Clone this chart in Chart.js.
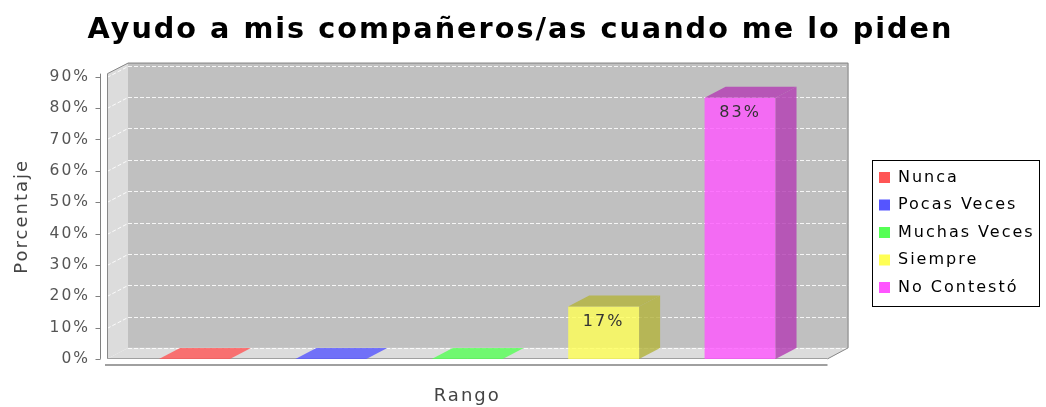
<!DOCTYPE html>
<html>
<head>
<meta charset="utf-8">
<title>Ayudo a mis compañeros/as cuando me lo piden</title>
<script src="https://cdn.jsdelivr.net/npm/chart.js@4.4.1/dist/chart.umd.min.js"></script>
<style>
  html, body { margin: 0; padding: 0; background: #ffffff; }
  #chart { display: block; }
</style>
</head>
<body>
<canvas id="chart" width="1046" height="407"></canvas>
<script>
// Datos
const categories = [''];
const seriesNames = ['Nunca', 'Pocas Veces', 'Muchas Veces', 'Siempre', 'No Contestó'];
const seriesValues = [0, 0, 0, 16.7, 83.3];
const seriesColors = ['#ff5555', '#5555ff', '#55ff55', '#ffff55', '#ff55ff'];
const yTicks = [0, 10, 20, 30, 40, 50, 60, 70, 80, 90];

// Profundidad del efecto 3D
const DEPTH_X = 21;
const DEPTH_Y = 11;
const LETTER_SPACING = '2px';

function shade(hex, alpha, factor) {
    const n = parseInt(hex.slice(1), 16);
    const f = factor || 1;
    const r = Math.round(((n >> 16) & 255) * f);
    const g = Math.round(((n >> 8) & 255) * f);
    const b = Math.round((n & 255) * f);
    return 'rgba(' + r + ',' + g + ',' + b + ',' + alpha + ')';
}

Chart.defaults.font.family = "'DejaVu Sans', sans-serif";

/**
 * Espaciado de letras para imitar la fuente ancha del original
 */
const spacingPlugin = {
    id: 'spacing',
    beforeUpdate(chart) { chart.ctx.letterSpacing = LETTER_SPACING; },
    beforeDraw(chart) { chart.ctx.letterSpacing = LETTER_SPACING; },
    afterLayout(chart) {
        // bajar un poco la leyenda
        chart.legend.top += 29;
        chart.legend.bottom += 29;
    }
};

/**
 * Paredes, suelo y rejilla del grafico 3D
 */
const wallsPlugin = {
    id: 'walls',
    beforeDatasetsDraw(chart) {
        const ctx = chart.ctx;
        const area = chart.chartArea;
        const yScale = chart.scales.y;
        const L = area.left, R = area.right, T = area.top, B = area.bottom;
        ctx.save();

        // pared del fondo
        ctx.fillStyle = '#c0c0c0';
        ctx.fillRect(L + DEPTH_X, T - DEPTH_Y, R - L, B - T);

        // pared izquierda
        ctx.fillStyle = '#dcdcdc';
        ctx.beginPath();
        ctx.moveTo(L, B);
        ctx.lineTo(L, T);
        ctx.lineTo(L + DEPTH_X, T - DEPTH_Y);
        ctx.lineTo(L + DEPTH_X, B - DEPTH_Y);
        ctx.closePath();
        ctx.fill();

        // suelo
        ctx.beginPath();
        ctx.moveTo(L, B);
        ctx.lineTo(L + DEPTH_X, B - DEPTH_Y);
        ctx.lineTo(R + DEPTH_X, B - DEPTH_Y);
        ctx.lineTo(R, B);
        ctx.closePath();
        ctx.fill();

        // rejilla
        ctx.strokeStyle = 'rgba(255,255,255,0.85)';
        ctx.lineWidth = 1;
        ctx.setLineDash([4, 2]);
        yTicks.forEach(v => {
            const py = Math.round(yScale.getPixelForValue(v)) + 0.5;
            ctx.beginPath();
            ctx.moveTo(L + DEPTH_X, py - DEPTH_Y);
            ctx.lineTo(R + DEPTH_X, py - DEPTH_Y);
            ctx.stroke();
            if (v === 0) return;
            ctx.beginPath();
            ctx.moveTo(L, py);
            ctx.lineTo(L + DEPTH_X, py - DEPTH_Y);
            ctx.stroke();
        });
        ctx.setLineDash([]);

        // contorno
        ctx.strokeStyle = '#888888';
        ctx.beginPath();
        ctx.moveTo(L + 0.5, B);
        ctx.lineTo(L + 0.5, T);
        ctx.lineTo(L + DEPTH_X, T - DEPTH_Y + 0.5);
        ctx.lineTo(R + DEPTH_X - 0.5, T - DEPTH_Y + 0.5);
        ctx.lineTo(R + DEPTH_X - 0.5, B - DEPTH_Y);
        ctx.lineTo(R, B);
        ctx.stroke();
        ctx.strokeStyle = '#a0a0a0';
        ctx.beginPath();
        ctx.moveTo(L, Math.round(B) - 0.5);
        ctx.lineTo(R, Math.round(B) - 0.5);
        ctx.stroke();

        // eje Y
        const ax = L - 7 + 0.5;
        ctx.strokeStyle = '#808080';
        ctx.beginPath();
        ctx.moveTo(ax, T);
        ctx.lineTo(ax, B);
        yTicks.forEach(v => {
            const py = Math.round(yScale.getPixelForValue(v)) + 0.5;
            ctx.moveTo(ax - 5, py);
            ctx.lineTo(ax, py);
        });
        ctx.stroke();

        // eje X
        ctx.strokeStyle = '#a0a0a0';
        ctx.lineWidth = 2;
        ctx.beginPath();
        ctx.moveTo(L - 2, B + 6);
        ctx.lineTo(R, B + 6);
        ctx.stroke();
        ctx.restore();
    }
};

/**
 * Caras superior y lateral de las barras, y etiquetas de valor
 */
const barsPlugin = {
    id: 'bars3d',
    afterDatasetsDraw(chart) {
        const ctx = chart.ctx;
        ctx.save();
        chart.data.datasets.forEach((ds, i) => {
            const bar = chart.getDatasetMeta(i).data[0];
            const p = bar.getProps(['x', 'y', 'base', 'width'], true);
            const left = p.x - p.width / 2;
            const right = p.x + p.width / 2;
            const top = Math.min(p.y, p.base);
            const bottom = Math.max(p.y, p.base);
            const flat = bottom - top < 0.5;
            ctx.fillStyle = flat ? shade(seriesColors[i], 0.8, 1) : shade(seriesColors[i], 0.8, 0.7);

            // cara superior
            ctx.beginPath();
            ctx.moveTo(left, top);
            ctx.lineTo(left + DEPTH_X, top - DEPTH_Y);
            ctx.lineTo(right + DEPTH_X, top - DEPTH_Y);
            ctx.lineTo(right, top);
            ctx.closePath();
            ctx.fill();

            // cara lateral
            if (!flat) {
                ctx.beginPath();
                ctx.moveTo(right, top);
                ctx.lineTo(right + DEPTH_X, top - DEPTH_Y);
                ctx.lineTo(right + DEPTH_X, bottom - DEPTH_Y);
                ctx.lineTo(right, bottom);
                ctx.closePath();
                ctx.fill();
            }

            // etiqueta
            const v = ds.data[0];
            if (v > 0) {
                ctx.fillStyle = '#333333';
                ctx.font = "16px 'DejaVu Sans', sans-serif";
                ctx.textAlign = 'center';
                ctx.textBaseline = 'middle';
                ctx.fillText(Math.round(v) + '%', p.x, top + 15);
            }
        });
        ctx.restore();
    }
};

/**
 * Marco de la leyenda
 */
const legendBoxPlugin = {
    id: 'legendBox',
    afterDraw(chart) {
        const hb = chart.legend.legendHitBoxes;
        if (!hb || !hb.length) return;
        const ctx = chart.ctx;
        const x0 = Math.round(hb[0].left - 7) + 0.5;
        const x1 = chart.width - 6.5;
        const y0 = Math.round(hb[0].top - 10) + 0.5;
        const last = hb[hb.length - 1];
        const y1 = Math.round(last.top + last.height + 10) + 0.5;
        ctx.save();
        ctx.strokeStyle = '#000000';
        ctx.lineWidth = 1;
        ctx.strokeRect(x0, y0, x1 - x0, y1 - y0);
        ctx.restore();
    }
};

const datasets = seriesNames.map((name, i) => ({
    label: name,
    data: [seriesValues[i]],
    backgroundColor: shade(seriesColors[i], 0.8, 1),
    borderWidth: 0,
    categoryPercentage: 0.9466,
    barPercentage: 0.52
}));

new Chart(document.getElementById('chart'), {
    type: 'bar',
    data: {
        labels: categories,
        datasets: datasets
    },
    options: {
        responsive: false,
        animation: false,
        layout: {
            padding: { left: 0, right: 5, top: 0, bottom: 0 }
        },
        plugins: {
            title: {
                display: true,
                text: 'Ayudo a mis compañeros/as cuando me lo piden',
                color: '#000000',
                font: { size: 28.7, weight: 'bold' },
                padding: { top: 13, bottom: 26.2 }
            },
            legend: {
                position: 'right',
                align: 'center',
                labels: {
                    color: '#333333',
                    font: { size: 16 },
                    boxWidth: 11,
                    boxHeight: 11,
                    padding: 11.5,
                    generateLabels(chart) {
                        return seriesNames.map((name, i) => ({
                            text: name,
                            fillStyle: seriesColors[i],
                            strokeStyle: seriesColors[i],
                            lineWidth: 0,
                            datasetIndex: i
                        }));
                    }
                }
            },
            tooltip: { enabled: false }
        },
        scales: {
            x: {
                grid: { display: false, drawTicks: false },
                border: { display: false },
                ticks: { display: false },
                title: {
                    display: true,
                    text: 'Rango',
                    color: '#444444',
                    font: { size: 18 },
                    padding: { top: 26.5, bottom: 0 }
                }
            },
            y: {
                min: 0,
                max: 91,
                grid: { display: false, drawTicks: false },
                border: { display: false },
                afterBuildTicks(scale) {
                    scale.ticks = yTicks.map(v => ({ value: v }));
                },
                afterFit(scale) {
                    scale.width = 107;
                },
                ticks: {
                    color: '#555555',
                    font: { size: 15.5 },
                    padding: 17,
                    callback: v => v + '%'
                },
                title: {
                    display: true,
                    text: 'Porcentaje',
                    color: '#444444',
                    font: { size: 18 },
                    padding: { top: 12, bottom: 0 }
                }
            },
            y1: {
                position: 'right',
                min: 0,
                max: 1,
                grid: { display: false, drawTicks: false },
                border: { display: false },
                ticks: { display: false },
                afterFit(scale) {
                    scale.width = 40;
                }
            }
        }
    },
    plugins: [spacingPlugin, wallsPlugin, barsPlugin, legendBoxPlugin]
});
</script>
</body>
</html>
